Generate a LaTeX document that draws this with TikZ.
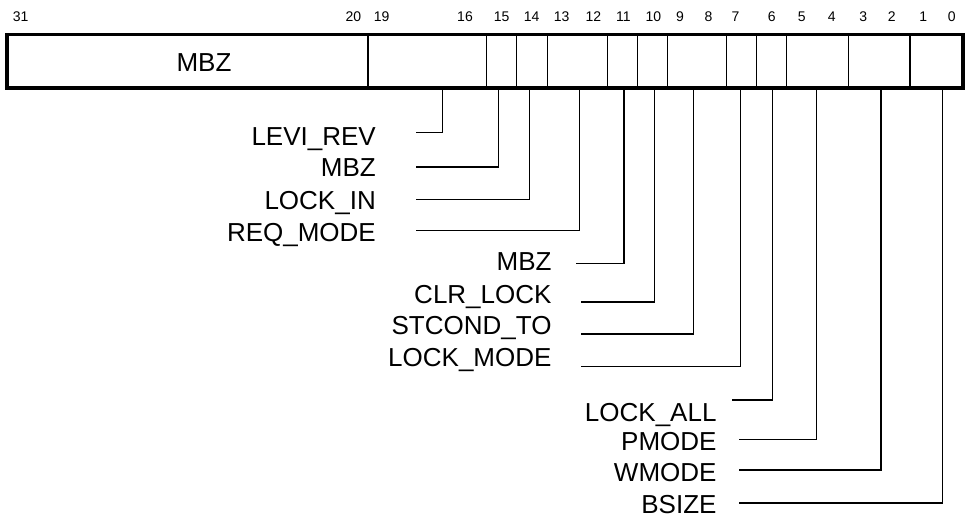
\documentclass[tikz,border=0pt]{standalone}
\usepackage{fontspec}
\setmainfont{Liberation Sans}
\begin{document}
\begin{tikzpicture}[x=1pt,y=-1pt,
  lbl/.style={anchor=base east,inner sep=0pt,font=\fontsize{26}{26}\selectfont},
  num/.style={anchor=base,inner sep=0pt,font=\fontsize{14}{14}\selectfont},
  conn/.style={line width=1.2pt},
  div/.style={line width=1.2pt},
  frame/.style={draw,line width=3.5pt,inner sep=0pt}]
\useasboundingbox (0,0) rectangle (968,522);
% bit numbers
\foreach \n/\x in {31/20.7,20/353.3,19/381.7,16/465,15/501.7,14/531.7,13/561.7,12/593.3,11/623.3,10/653.3,9/680,8/708.5,7/735.5,6/771.7,5/801.7,4/831.7,3/863.3,2/891.7,1/923.3,0/951.7}
  \node[num] (n\n) at (\x,21.7) {\n};
% field dividers
\foreach \x in {368,486.7,516.7,547.3,607.7,637.3,667.3,726.7,756.7,786.7,848.3,910}
  \draw[div] (\x,34.7) -- (\x,88);
% register frame
\node[frame,minimum width=956pt,minimum height=53.3pt] (reg) at (485,61.35) {};
\node[anchor=base,inner sep=0pt,font=\fontsize{26}{26}\selectfont] (mbzhi) at (204,71.7) {MBZ};
% labels and connectors
\foreach \id/\txt/\lx/\ly/\sx/\sy/\vx in {
  a/LEVI\_REV/376/145/416/132.7/442.7,
  b/MBZ/376/176.7/416/167/498.3,
  c/LOCK\_IN/376/209/416/199.3/529.3,
  d/REQ\_MODE/376/241/416/230.7/579.3,
  e/MBZ/551.7/270/576/263.3/624,
  f/CLR\_LOCK/551.7/303/581/302/654.3,
  g/STCOND\_TO/551.7/334.3/581/334/693.3,
  h/LOCK\_MODE/551.7/366.7/581/366.7/740.7,
  i/LOCK\_ALL/716.7/421.7/732/400/772.7,
  j/PMODE/716.7/450/739/439.3/816.7,
  k/WMODE/716.7/481.7/739/470/881,
  l/BSIZE/716.7/513/739/503/942.3}{
  \node[lbl] (l\id) at (\lx,\ly) {\txt};
  \coordinate (s\id) at (\sx,\sy);
  \coordinate (t\id) at (\vx,88);
  \draw[conn] (s\id) -| (t\id);
}
\end{tikzpicture}
\end{document}
